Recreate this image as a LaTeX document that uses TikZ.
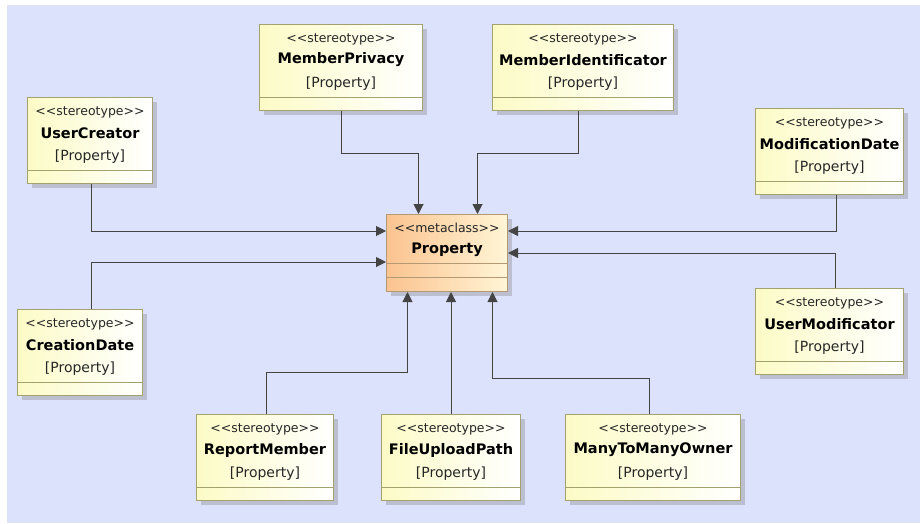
\documentclass[tikz,border=0pt]{standalone}
\usepackage{fontspec}
\setmainfont{DejaVu Sans}
\usetikzlibrary{arrows.meta,shadows,calc}
\definecolor{bg}{HTML}{DDE2FC}
\definecolor{ybox}{HTML}{FCFBC6}
\definecolor{yline}{HTML}{A3A26E}
\definecolor{obox}{HTML}{FBC38F}
\definecolor{obox2}{HTML}{FFF5D6}
\definecolor{oline}{HTML}{B39A74}
\definecolor{conncol}{HTML}{444444}

\tikzset{
 classbox/.style={draw=yline, line width=1pt, left color=ybox, right color=white, rectangle, inner sep=0pt, anchor=north west,
   drop shadow={shadow xshift=4pt, shadow yshift=-4pt, fill=black!45, opacity=0.4}},
 metabox/.style={classbox, draw=oline, left color=obox, right color=obox2},
 stereo/.style={inner sep=0pt, font=\fontsize{12.5}{15}\selectfont, text=black!85},
 proptext/.style={inner sep=0pt, font=\fontsize{14}{15}\selectfont, text=black!85},
 titletext/.style={inner sep=0pt, font=\fontsize{14.5}{16}\selectfont\bfseries},
 divider/.style={draw=yline, line width=1pt},
 link/.style={draw=conncol, line width=1pt, -{Triangle[length=10pt,width=10pt]}},
}

\newcommand\stbox[5]{% name, x, y, width, title
  \node[classbox, minimum width=#4pt, minimum height=86pt] (#1) at (#2,#3) {};
  \node[stereo] (#1-s) at ([yshift=-15pt]#1.north) {{<}{<}stereotype{>}{>}};
  \node[titletext] (#1-t) at ([yshift=-36pt]#1.north) {#5};
  \node[proptext] (#1-p) at ([yshift=-60pt]#1.north) {[Property]};
  \draw[divider] ([yshift=-73pt]#1.north west) -- ([yshift=-73pt]#1.north east);
}

\begin{document}
\begin{tikzpicture}[x=1pt,y=-1pt]
\useasboundingbox (0,0) rectangle (920,523);
\fill[bg] (7,5) rectangle (920,523);

\stbox{UserCreator}{27}{97}{125}{UserCreator}
\stbox{MemberPrivacy}{259}{24}{163}{MemberPrivacy}
\stbox{MemberIdentificator}{492}{24}{181}{MemberIdentificator}
\stbox{ModificationDate}{755}{108}{148}{ModificationDate}
\stbox{CreationDate}{17}{309}{125}{CreationDate}
\stbox{UserModificator}{755}{288}{148}{UserModificator}
\stbox{ReportMember}{196}{414}{137}{ReportMember}
\stbox{FileUploadPath}{381}{414}{139}{FileUploadPath}
\stbox{ManyToManyOwner}{565}{414}{175}{ManyToManyOwner}

\node[metabox, minimum width=121pt, minimum height=77pt] (Property) at (386,214) {};
\node[stereo] (Property-s) at ([yshift=-14pt]Property.north) {{<}{<}metaclass{>}{>}};
\node[titletext] (Property-t) at ([yshift=-36pt]Property.north) {Property};
\draw[divider, draw=oline] ([yshift=-49pt]Property.north west) -- ([yshift=-49pt]Property.north east);
\draw[divider, draw=oline] ([yshift=-63pt]Property.north west) -- ([yshift=-63pt]Property.north east);

\draw[link] ([xshift=1.5pt]UserCreator.south) |- ([yshift=-17pt]Property.north west);
\draw[link] ([xshift=11.5pt]CreationDate.north) |- ([yshift=-48pt]Property.north west);
\draw[link] (MemberPrivacy.south) -- ++(0,42) -| ([xshift=-28.5pt]Property.north);
\draw[link] ([xshift=-5pt]MemberIdentificator.south) -- ++(0,42) -| ([xshift=30.5pt]Property.north);
\draw[link] ([xshift=7pt]ModificationDate.south) |- ([yshift=-17pt]Property.north east);
\draw[link] ([xshift=6pt]UserModificator.north) |- (Property.east);
\draw[link] ([xshift=1.5pt]ReportMember.north) -- ++(0,-42) -| ([xshift=-39.5pt]Property.south);
\draw[link] (FileUploadPath.north) -- (FileUploadPath.north |- Property.south);
\draw[link] ([xshift=-3.5pt]ManyToManyOwner.north) -- ++(0,-36) -| ([xshift=45.5pt]Property.south);
\end{tikzpicture}
\end{document}
